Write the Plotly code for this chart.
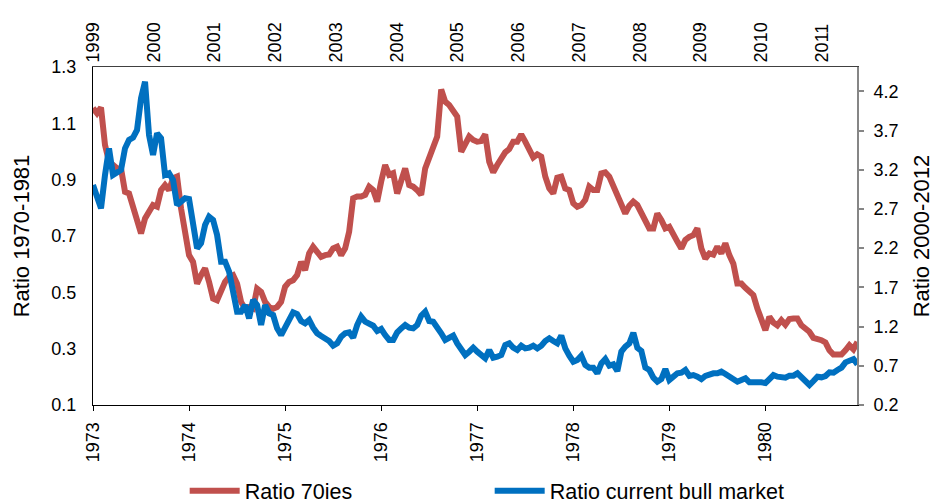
import numpy as np
import plotly.graph_objects as go

# ---- tick labels / categories ----
years_70s = list(range(1973, 1981))
years_bull = list(range(1999, 2012))
left_ticks = [0.1, 0.3, 0.5, 0.7, 0.9, 1.1, 1.3]
right_ticks = [0.2, 0.7, 1.2, 1.7, 2.2, 2.7, 3.2, 3.7, 4.2]

# ---- series values (semi-monthly samples) ----
ratio_70ies = [
    1.154, 1.136, 1.156, 1.023, 0.964, 0.952, 0.940, 0.940, 0.857, 0.851,
    0.798, 0.757, 0.709, 0.762, 0.792, 0.810, 0.804, 0.863, 0.881, 0.863,
    0.905, 0.911, 0.798, 0.715, 0.632, 0.608, 0.531, 0.561, 0.585, 0.537,
    0.478, 0.472, 0.508, 0.537, 0.555, 0.561, 0.531, 0.466, 0.442, 0.448,
    0.442, 0.513, 0.502, 0.466, 0.448, 0.442, 0.448, 0.466, 0.520, 0.537,
    0.543, 0.561, 0.608, 0.579, 0.638, 0.662, 0.644, 0.626, 0.632, 0.634,
    0.656, 0.662, 0.632, 0.656, 0.715, 0.834, 0.840, 0.840, 0.846, 0.875,
    0.863, 0.822, 0.893, 0.952, 0.917, 0.923, 0.851, 0.893, 0.940, 0.881,
    0.875, 0.863, 0.846, 0.940, 0.976, 1.011, 1.053, 1.220, 1.177, 1.165,
    1.148, 1.124, 0.999, 1.023, 1.053, 1.041, 1.035, 1.037, 1.061, 0.964,
    0.926, 0.952, 0.976, 0.997, 1.009, 1.035, 1.035, 1.061, 1.035, 1.002,
    0.979, 0.990, 0.982, 0.911, 0.869, 0.851, 0.907, 0.911, 0.869, 0.863,
    0.816, 0.804, 0.810, 0.828, 0.875, 0.863, 0.863, 0.922, 0.926, 0.911,
    0.881, 0.839, 0.816, 0.780, 0.807, 0.822, 0.810, 0.780, 0.757, 0.727,
    0.727, 0.780, 0.757, 0.727, 0.733, 0.703, 0.680, 0.656, 0.686, 0.697,
    0.703, 0.727, 0.656, 0.620, 0.638, 0.634, 0.662, 0.638, 0.674, 0.632,
    0.602, 0.531, 0.531, 0.516, 0.504, 0.490, 0.442, 0.395, 0.366, 0.413,
    0.393, 0.383, 0.401, 0.385, 0.405, 0.407, 0.407, 0.383, 0.371, 0.360,
    0.338, 0.336, 0.330, 0.322, 0.294, 0.279, 0.277, 0.279, 0.294, 0.312,
    0.298, 0.324,
]

ratio_bull = [
    3.006, 2.857, 2.708, 3.133, 3.473, 3.133, 3.176, 3.197, 3.473, 3.580,
    3.609, 3.707, 4.111, 4.323, 3.643, 3.388, 3.665, 3.601, 3.133, 3.154,
    3.069, 2.750, 2.793, 2.836, 2.827, 2.538, 2.198, 2.262, 2.495, 2.601,
    2.560, 2.368, 2.028, 2.028, 1.900, 1.645, 1.390, 1.390, 1.475, 1.305,
    1.539, 1.475, 1.220, 1.475, 1.369, 1.347, 1.177, 1.092, 1.200, 1.305,
    1.382, 1.360, 1.271, 1.241, 1.284, 1.186, 1.114, 1.080, 1.050, 1.016,
    0.957, 0.986, 1.071, 1.114, 1.126, 1.058, 1.220, 1.326, 1.262, 1.241,
    1.211, 1.143, 1.169, 1.092, 1.029, 1.029, 1.126, 1.177, 1.220, 1.186,
    1.177, 1.220, 1.339, 1.390, 1.271, 1.262, 1.199, 1.114, 1.029, 1.058,
    1.084, 0.986, 0.901, 0.837, 0.880, 0.931, 0.880, 0.829, 0.795, 0.901,
    0.803, 0.816, 0.837, 0.965, 0.986, 0.931, 0.901, 0.957, 0.922, 0.931,
    0.957, 0.922, 0.957, 1.016, 1.050, 1.016, 0.986, 1.084, 0.922, 0.829,
    0.752, 0.774, 0.829, 0.710, 0.676, 0.676, 0.604, 0.731, 0.786, 0.701,
    0.718, 0.633, 0.880, 0.944, 0.986, 1.120, 0.930, 0.888, 0.676, 0.646,
    0.548, 0.497, 0.531, 0.659, 0.519, 0.561, 0.604, 0.612, 0.646, 0.570,
    0.582, 0.561, 0.531, 0.570, 0.595, 0.604, 0.604, 0.625, 0.595, 0.561,
    0.519, 0.497, 0.519, 0.540, 0.489, 0.497, 0.489, 0.489, 0.480, 0.531,
    0.582, 0.561, 0.561, 0.548, 0.574, 0.574, 0.604, 0.561, 0.497, 0.455,
    0.506, 0.561, 0.553, 0.570, 0.616, 0.612, 0.646, 0.676, 0.744, 0.765,
    0.786, 0.718,
]

# time positions (decimal years)
x_70ies = 1973 + np.arange(len(ratio_70ies)) / 24.0
x_bull = 1999.0 + np.arange(len(ratio_bull)) * 0.06588

RED = "#C0504D"
BLUE = "#0070C0"
FONT = "Liberation Sans, Arial, sans-serif"

fig = go.Figure()
fig.add_trace(go.Scatter(
    x=x_70ies, y=ratio_70ies, name="Ratio 70ies", mode="lines",
    line=dict(color=RED, width=6), xaxis="x", yaxis="y",
))
fig.add_trace(go.Scatter(
    x=x_bull, y=ratio_bull, name="Ratio current bull market", mode="lines",
    line=dict(color=BLUE, width=6), xaxis="x2", yaxis="y2",
))

fig.update_layout(
    width=950, height=504,
    margin=dict(l=93, r=93, t=67, b=99, autoexpand=False),
    paper_bgcolor="white", plot_bgcolor="white",
    font=dict(family=FONT, size=18, color="black"),
    xaxis=dict(
        range=[1973, 1980.954], tickmode="array", tickvals=years_70s,
        ticktext=[str(y) for y in years_70s], tickangle=-90,
        showline=True, linecolor="black", linewidth=1,
        ticks="outside", ticklen=5, tickcolor="black",
        showgrid=False, zeroline=False, ticklabelstandoff=4,
    ),
    xaxis2=dict(
        range=[1999.0, 2011.575], overlaying="x", side="top", anchor="y",
        tickmode="array", tickvals=years_bull,
        ticktext=[str(y) for y in years_bull], tickangle=-90,
        showline=True, linecolor="#404040", linewidth=1, ticks="",
        showgrid=False, zeroline=False, ticklabelstandoff=0,
    ),
    yaxis=dict(
        range=[0.1, 1.3], tickmode="array", tickvals=left_ticks,
        tickformat=".1f", showline=True, linecolor="black", linewidth=1,
        ticks="", showgrid=False, zeroline=False, ticklabelstandoff=12,
        title=dict(text="Ratio 1970-1981", standoff=15),
    ),
    yaxis2=dict(
        range=[0.2, 4.51], overlaying="y", side="right", anchor="x",
        tickmode="array", tickvals=right_ticks, tickformat=".1f",
        showline=True, linecolor="#868686", linewidth=2,
        ticks="outside", ticklen=5, tickcolor="#868686", tickwidth=2,
        showgrid=False, zeroline=False, ticklabelstandoff=6,
        title=dict(text="Ratio 2000-2012", standoff=16),
    ),
    legend=dict(
        orientation="h", x=0.12, y=-0.2536, xanchor="left", yanchor="middle",
        font=dict(size=21.5, family=FONT), itemwidth=50,
        entrywidth=240, entrywidthmode="pixels", bgcolor="rgba(0,0,0,0)",
    ),
)

fig.write_html(
    "out.html",
    config={"displayModeBar": False},
    post_script="document.body.style.margin='0';document.body.style.overflow='hidden';",
)
